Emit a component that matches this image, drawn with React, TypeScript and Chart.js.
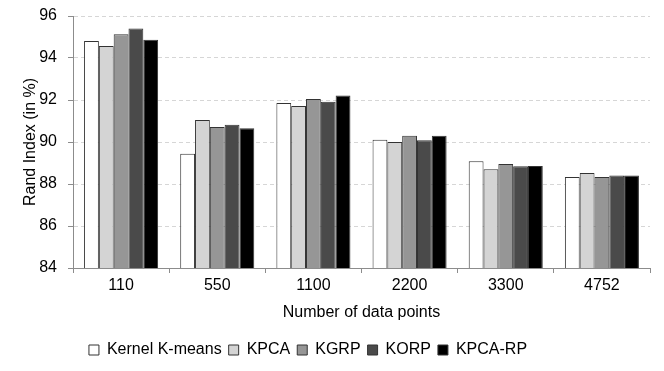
import React, { useEffect, useRef } from "react";
import { Chart, registerables } from "chart.js";

Chart.register(...registerables);

const categories = ["110", "550", "1100", "2200", "3300", "4752"];
const seriesNames = ["Kernel K-means", "KPCA", "KGRP", "KORP", "KPCA-RP"];
const kernelKMeans = [94.81, 89.44, 91.86, 90.11, 89.08, 88.33];
const kpca = [94.57, 91.05, 91.71, 90.0, 88.7, 88.52];
const kgrp = [95.13, 90.71, 92.05, 90.3, 88.95, 88.33];
const korp = [95.4, 90.82, 91.92, 90.08, 88.84, 88.4];
const kpcaRp = [94.87, 90.65, 92.22, 90.3, 88.86, 88.41];
const seriesColors = ["#ffffff", "#d4d4d4", "#969696", "#4a4a4a", "#000000"];

const legendShift = {
  id: "legendShift",
  afterLayout(chart: any) {
    const lg = chart.legend;
    if (lg) {
      lg.left -= 17;
      lg.right -= 17;
    }
  },
};

export default function App() {
  const ref = useRef<HTMLCanvasElement>(null);
  useEffect(() => {
    if (!ref.current) return;
    const values = [kernelKMeans, kpca, kgrp, korp, kpcaRp];
    const font = "'Liberation Sans', Arial, sans-serif";
    const chart = new Chart(ref.current, {
      type: "bar",
      data: {
        labels: categories,
        datasets: seriesNames.map((name, i) => ({
          label: name,
          data: values[i],
          backgroundColor: seriesColors[i],
          borderColor: "#333333",
          borderWidth: 1,
          categoryPercentage: 0.77,
          barPercentage: 1.0,
        })),
      },
      plugins: [legendShift],
      options: {
        animation: false,
        responsive: false,
        maintainAspectRatio: false,
        layout: { padding: { top: 16, right: 14, left: 0, bottom: 3 } },
        plugins: {
          tooltip: { enabled: false },
          legend: {
            position: "bottom",
            labels: {
              boxWidth: 10,
              boxHeight: 10,
              padding: 7,
              color: "#000",
              font: { family: font, size: 16 },
            },
          },
        },
        scales: {
          y: {
            min: 84,
            max: 96,
            ticks: {
              stepSize: 2,
              color: "#000",
              font: { family: font, size: 16 },
              padding: 11,
            },
            grid: {
              color: "#d6d6d6",
              tickLength: 5,
              tickColor: "#8c8c8c",
              tickBorderDash: [],
              lineWidth: 1,
            },
            border: { display: true, color: "#8c8c8c", dash: [4, 3] },
            title: {
              display: true,
              text: "Rand Index (in %)",
              color: "#000",
              font: { family: font, size: 16 },
              padding: { top: 21, bottom: 0 },
            },
            afterFit: (s: any) => {
              s.width = 73;
              s.paddingTop = 8;
              s.paddingBottom = 8;
            },
          },
          x: {
            ticks: {
              color: "#000",
              font: { family: font, size: 16 },
              padding: 3,
            },
            grid: {
              display: true,
              offset: true,
              drawOnChartArea: false,
              drawTicks: true,
              tickLength: 5,
              tickColor: "#8c8c8c",
              color: "#8c8c8c",
            },
            border: { display: true, color: "#8c8c8c" },
            title: {
              display: true,
              text: "Number of data points",
              color: "#000",
              font: { family: font, size: 16 },
              padding: { top: 2, bottom: 13 },
            },
            afterFit: (s: any) => {
              s.height = 67;
            },
          },
        },
      },
    });
    return () => chart.destroy();
  }, []);
  return (
    <div style={{ position: "fixed", left: 0, top: 0, width: 664, height: 371, background: "#fff" }}>
      <canvas ref={ref} width={664} height={371} style={{ width: 664, height: 371 }} />
    </div>
  );
}
